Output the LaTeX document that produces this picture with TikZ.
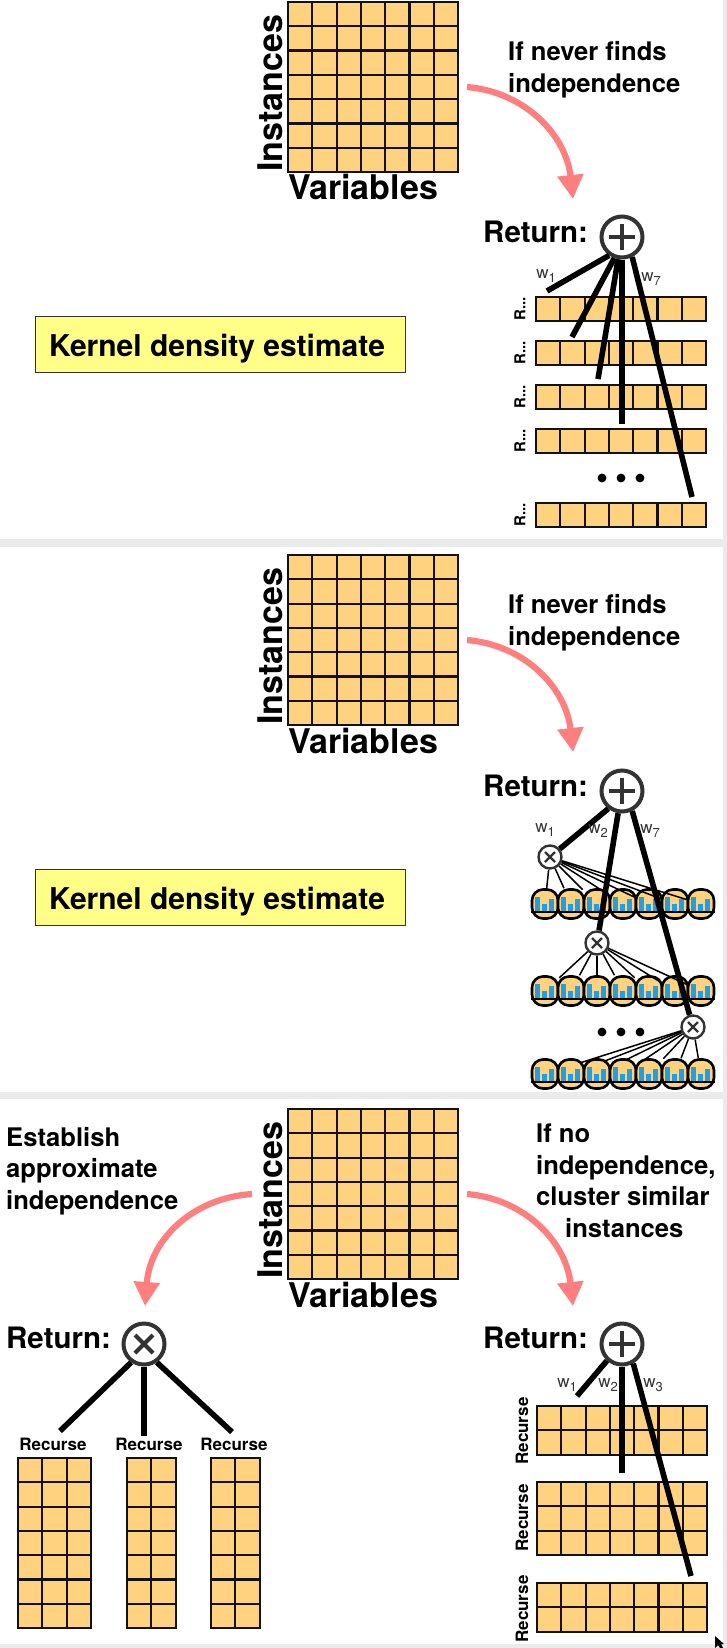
\documentclass[tikz,border=0pt]{standalone}
\usepackage{fontspec}
\setmainfont{TeX Gyre Heros}
\usetikzlibrary{arrows.meta,positioning}
\definecolor{Ink}{HTML}{111111}
\definecolor{Tan}{HTML}{FFD27F}
\definecolor{Salmon}{HTML}{FF7F7F}
\definecolor{Band}{HTML}{EBEBEB}
\definecolor{Note}{HTML}{FFFF88}
\definecolor{BarBlue}{HTML}{1E9FE8}
\definecolor{DarkGrey}{HTML}{333333}
\tikzset{
  cellbox/.style={fill=Tan,draw=Ink,line width=2.2pt},
  cellline/.style={draw=Ink,line width=2.2pt},
  curvearrow/.style={draw=Salmon,line width=6.2pt,-{Triangle[length=24pt,width=25pt]}},
  heavylink/.style={draw=black,line width=5.6pt},
  thinlink/.style={draw=black,line width=1.5pt},
  opbig/.style={circle,fill=white,draw=DarkGrey,line width=4pt,minimum size=41pt,inner sep=0pt},
  opsmall/.style={circle,fill=white,draw=DarkGrey,line width=2.4pt,minimum size=23pt,inner sep=0pt},
  histnode/.style={rectangle,rounded corners=11pt,fill=Tan,draw=black,line width=2.6pt,minimum width=26pt,minimum height=29pt,inner sep=0pt},
  kernelbox/.style={rectangle,fill=Note,draw=DarkGrey,line width=0.8pt,minimum width=370pt,minimum height=56pt},
  kerneltext/.style={inner sep=0pt,font=\fontsize{30}{34}\selectfont\bfseries},
  bigtext/.style={inner sep=0pt,font=\fontsize{34}{36}\selectfont\bfseries},
  returntext/.style={inner sep=0pt,anchor=base west,font=\fontsize{29.5}{32}\selectfont\bfseries},
  captext/.style={inner sep=0pt,anchor=north west,align=left,font=\fontsize{25.6}{31.5}\selectfont\bfseries},
  recursetext/.style={inner sep=0pt,font=\fontsize{17}{20}\selectfont\bfseries},
  weighttext/.style={inner sep=0pt,text=DarkGrey,font=\fontsize{17}{18}\selectfont},
}
\newcommand{\cells}[4]{%
  \draw[cellbox] (#1,#2) rectangle ++(#3*24.3,#4*24.3);
  \foreach \col in {1,...,#3} {\draw[cellline] (#1+\col*24.3,#2) -- ++(0,#4*24.3);}
  \foreach \row in {1,...,#4} {\draw[cellline] (#1,#2+\row*24.3) -- ++(#3*24.3,0);}
}
\newcommand{\datablock}[2]{%
  \cells{288}{#1}{7}{7}
  \node[bigtext,rotate=90,anchor=base west] (inst#2) at (282,#1+170) {Instances};
  \node[bigtext,anchor=base west] (vars#2) at (288,#1+198) {Variables};
}
\newcommand{\opplus}[3]{%
  \node[opbig] (#1) at (#2,#3) {};
  \draw[DarkGrey,line width=4pt] (#2-13,#3) -- (#2+13,#3) (#2,#3-13) -- (#2,#3+13);
}
\newcommand{\crossmark}[4]{%
  \draw[DarkGrey,line width=#4pt] (#1-#3,#2-#3) -- (#1+#3,#2+#3) (#1-#3,#2+#3) -- (#1+#3,#2-#3);
}
\newcommand{\histrow}[3]{%
  \foreach \n in {1,...,7} {
    \node[histnode] (#1\n) at (519+26*\n,#3) {};
    \draw[thinlink] (#2) -- (#1\n);
    \fill[BarBlue] (509+26*\n,#3+7) rectangle ++(4.6,-14);
    \fill[BarBlue] (516+26*\n,#3+7) rectangle ++(4.6,-7);
    \fill[BarBlue] (523+26*\n,#3+7) rectangle ++(4.6,-12);
    \draw[black,line width=2pt] (#1\n.west |- 0,#3+7.5) -- (#1\n.east |- 0,#3+7.5);
  }
}
\newcommand{\dotrow}[1]{%
  \foreach \n in {602,621,640} {\fill[black] (\n,#1) circle (4.4);}
}
\newcommand{\wsub}[1]{w\raisebox{-4pt}{\fontsize{13}{13}\selectfont #1}}

\begin{document}
\begin{tikzpicture}[x=1pt,y=-1pt]
        \useasboundingbox (0,0) rectangle (727,1648);
        \fill[Band] (0,0) rectangle (727,1648);
        \fill[white] (0,0) rectangle (723,539);
        \fill[white] (0,547) rectangle (723,1092);
        \fill[white] (0,1099) rectangle (723,1644);

        \datablock{2}{a}
        \node[captext] (capa) at (508,41.5) {If never finds\\independence};
        \coordinate (fromab) at (467,87);
        \coordinate (toab) at (573,199);
        \draw[curvearrow] (fromab) .. controls (525,92) and (566,135) .. (toab);
        \node[returntext] (reta) at (483,242) {Return:};
        \node[kernelbox] (kernela) at (220,344) {};
        \node[kerneltext] (kerneltexta) at (217,349) {Kernel density estimate};
        \foreach \y [count=\i] in {297,341,385,429,503} {
          \cells{536}{\y}{7}{1}
          \node[recursetext,font=\fontsize{15}{18}\selectfont\bfseries,rotate=90] (ra\i) at (520,\y+12) {R...};
        }
        \dotrow{478}
        \opplus{plusa}{622}{237}
        \coordinate (enda1) at (547,291);
        \coordinate (enda2) at (572,337);
        \coordinate (enda3) at (598,379);
        \coordinate (enda4) at (622,424);
        \coordinate (enda5) at (692,497);
        \draw[heavylink] (plusa.235) -- (enda1);
        \draw[heavylink] (plusa.250) -- (enda2);
        \draw[heavylink] (plusa.260) -- (enda3);
        \draw[heavylink] (plusa.270) -- (enda4);
        \draw[heavylink] (plusa.297) -- (enda5);
        \node[weighttext] (wa1) at (546,276) {\wsub{1}};
        \node[weighttext] (wa7) at (651,279) {\wsub{7}};

        \datablock{555}{b}
        \node[captext] (capb) at (508,594.5) {If never finds\\independence};
        \coordinate (frombb) at (467,640);
        \coordinate (tobb) at (573,752);
        \draw[curvearrow] (frombb) .. controls (525,645) and (566,688) .. (tobb);
        \node[returntext] (retb) at (483,796) {Return:};
        \node[kernelbox] (kernelb) at (220,897) {};
        \node[kerneltext] (kerneltextb) at (217,902) {Kernel density estimate};
        \dotrow{1032}
        \opplus{plusb}{622}{791}
        \node[opsmall] (opb1) at (550,857) {};
        \node[opsmall] (opb2) at (597,943) {};
        \node[opsmall] (opb3) at (693,1027) {};
        \crossmark{550}{857}{5}{2.4}
        \crossmark{597}{943}{5}{2.4}
        \crossmark{693}{1027}{5}{2.4}
        \histrow{hista}{opb1}{904}
        \histrow{histb}{opb2}{991}
        \histrow{histc}{opb3}{1074}
        \draw[heavylink] (plusb.232) -- (opb1);
        \draw[heavylink] (plusb.260) -- (opb2);
        \draw[heavylink] (plusb.297) -- (opb3);
        \node[weighttext] (wb1) at (545,830) {\wsub{1}};
        \node[weighttext] (wb2) at (598,831) {\wsub{2}};
        \node[weighttext] (wb7) at (650,831) {\wsub{7}};

        \datablock{1109}{c}
        \node[captext] (capc) at (6,1127) {Establish\\approximate\\independence};
        \node[captext] (capd) at (536,1124) {If no\\independence,\\cluster similar\\\hspace*{29pt}instances};
        \coordinate (fromcl) at (252,1194);
        \coordinate (tocl) at (145,1306);
        \draw[curvearrow] (fromcl) .. controls (192,1198) and (150,1240) .. (tocl);
        \coordinate (fromcr) at (467,1194);
        \coordinate (tocr) at (573,1306);
        \draw[curvearrow] (fromcr) .. controls (525,1199) and (566,1242) .. (tocr);
        \node[returntext] (retc) at (6,1348) {Return:};
        \node[returntext] (retd) at (483,1348) {Return:};

        \node[opbig] (timesc) at (144,1344) {};
        \crossmark{144}{1344}{9}{4}
        \node[recursetext] (recl1) at (53,1444) {Recurse};
        \node[recursetext] (recl2) at (149,1444) {Recurse};
        \node[recursetext] (recl3) at (234,1444) {Recurse};
        \coordinate (endc1) at (60,1431);
        \coordinate (endc2) at (144,1436);
        \coordinate (endc3) at (232,1432);
        \draw[heavylink] (timesc.235) -- (endc1);
        \draw[heavylink] (timesc.270) -- (endc2);
        \draw[heavylink] (timesc.305) -- (endc3);
        \cells{18}{1458}{3}{7}
        \cells{127}{1458}{2}{7}
        \cells{211}{1458}{2}{7}

        \cells{537}{1406}{7}{2}
        \cells{537}{1482}{7}{3}
        \cells{537}{1583}{7}{2}
        \node[recursetext,rotate=90] (recr1) at (522,1431) {Recurse};
        \node[recursetext,rotate=90] (recr2) at (522,1518) {Recurse};
        \node[recursetext,rotate=90] (recr3) at (522,1609) {Recurse};
        \opplus{plusc}{622}{1344}
        \coordinate (endd1) at (577,1396);
        \coordinate (endd2) at (622,1473);
        \coordinate (endd3) at (691,1576);
        \draw[heavylink] (plusc.228) -- (endd1);
        \draw[heavylink] (plusc.270) -- (endd2);
        \draw[heavylink] (plusc.300) -- (endd3);
        \node[weighttext] (wc1) at (567,1385) {\wsub{1}};
        \node[weighttext] (wc2) at (608,1385) {\wsub{2}};
        \node[weighttext] (wc3) at (653,1385) {\wsub{3}};
        \fill[black] (715,1636) -- (715,1648) -- (718,1645) -- (720,1648) -- (723,1648) -- (721,1644) -- (724,1644) -- cycle;
      \end{tikzpicture}
\end{document}
